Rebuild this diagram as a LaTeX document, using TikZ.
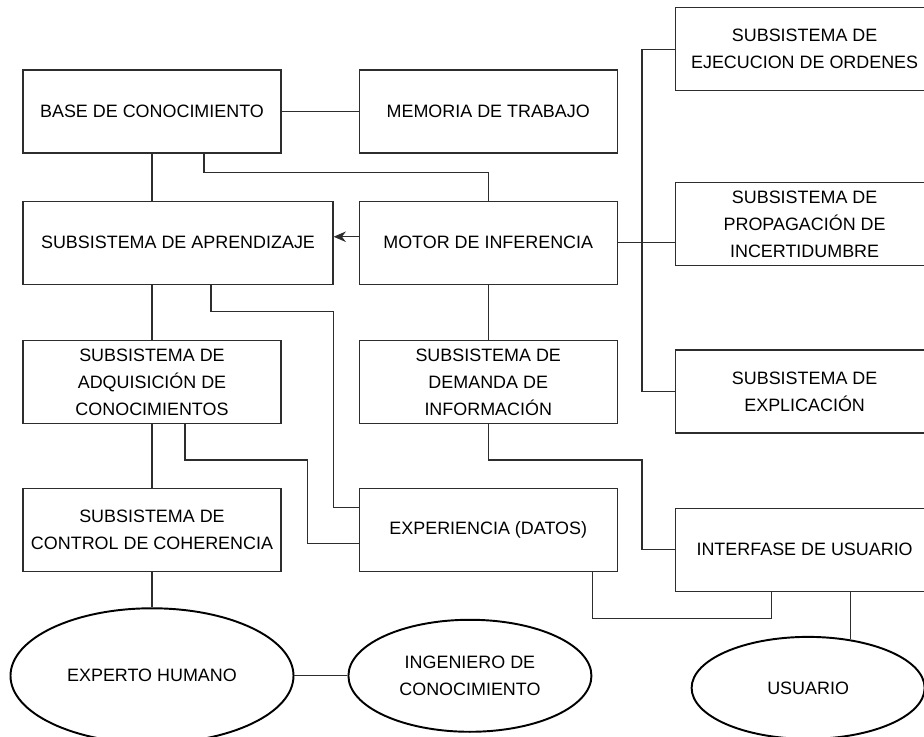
\documentclass[tikz,border=0pt]{standalone}
\usepackage{fontspec}
\setmainfont{Liberation Sans}
\usepackage{tikz}
\usetikzlibrary{shapes,arrows,arrows.meta,positioning}
\definecolor{edgecolor}{RGB}{45,45,45}

\begin{document}
\begin{tikzpicture}[
    node distance=1cm,
    modulo/.style={rectangle, draw=edgecolor, line width=0.7pt, minimum width=5.16cm, minimum height=1.66cm, inner xsep=0pt, inner ysep=2pt, align=center, font=\fontsize{10.2}{15.3}\selectfont},
    actor/.style={ellipse, draw=black, line width=1.1pt, inner sep=0pt, align=center, font=\fontsize{10.2}{15.3}\selectfont},
    link/.style={draw=edgecolor, line width=0.7pt},
    arrow/.style={-{Stealth[length=7pt,width=6pt]}, draw=edgecolor, line width=0.7pt}
]
\useasboundingbox (0,0) rectangle (18.48,-14.72);

% Left and middle columns
\node[modulo] (base) at (3.04,-2.23) {BASE DE CONOCIMIENTO};
\node[modulo, right=1.54cm of base] (memoria) {MEMORIA DE TRABAJO};
\node[modulo, minimum width=6.2cm, below=0.94cm of base.south west, anchor=north west] (aprendizaje) {SUBSISTEMA DE APRENDIZAJE};
\node[modulo, right=0.5cm of aprendizaje] (motor) {MOTOR DE INFERENCIA};
\node[modulo, below=1.1cm of aprendizaje.south west, anchor=north west] (adquisicion) {SUBSISTEMA DE\\ADQUISICIÓN DE\\CONOCIMIENTOS};
\node[modulo, below=1.1cm of motor] (demanda) {SUBSISTEMA DE\\DEMANDA DE\\INFORMACIÓN};
\node[modulo, below=1.28cm of adquisicion] (control) {SUBSISTEMA DE\\CONTROL DE COHERENCIA};
\node[modulo, below=1.28cm of demanda] (experiencia) {EXPERIENCIA (DATOS)};

% Right column
\node[modulo, anchor=north west] (ejecucion) at (13.5,-0.14) {SUBSISTEMA DE\\EJECUCION DE ORDENES};
\node[modulo, below=1.82cm of ejecucion] (propagacion) {SUBSISTEMA DE\\PROPAGACIÓN DE\\INCERTIDUMBRE};
\node[modulo, below=1.66cm of propagacion] (explicacion) {SUBSISTEMA DE\\EXPLICACIÓN};
\node[modulo, below=1.48cm of explicacion] (interfase) {INTERFASE DE USUARIO};

% People
\node[actor, minimum width=5.66cm, minimum height=2.7cm, below=0.7cm of control] (experto) {EXPERTO HUMANO};
\node[actor, minimum width=4.86cm, minimum height=2.24cm, right=1.06cm of experto] (ingeniero) {INGENIERO DE\\CONOCIMIENTO};
\node[actor, minimum width=4.66cm, minimum height=2.04cm, below=0.88cm of interfase, xshift=0.07cm] (usuario) {USUARIO};

% Helper points
\coordinate (expA) at ([yshift=0.45cm]experiencia.west);
\coordinate (expB) at ([yshift=-0.27cm]experiencia.west);
\coordinate (bendB) at ([xshift=0.52cm]adquisicion.east);

% Links
\draw[link] (base) -- (memoria);
\draw[link] (base.south) -- (base.south |- aprendizaje.north);
\draw[link] ([xshift=1.04cm]base.south) -- ++(0,-0.38) -| (motor.north);
\draw[arrow] ([yshift=0.12cm]motor.west) -- ([yshift=0.12cm]aprendizaje.east);
\draw[link] (motor.east) -- (motor.east -| propagacion.west);
\draw[link] (ejecucion.west) -- ++(-0.66,0) |- (explicacion.west);
\draw[link] (aprendizaje.south -| adquisicion.north) -- (adquisicion.north);
\draw[link] ([xshift=0.66cm]aprendizaje.south) -- ++(0,-0.54) -| (expA -| aprendizaje.east) -- (expA);
\draw[link] (adquisicion) -- (control);
\draw[link] ([xshift=0.66cm]adquisicion.south) -- ++(0,-0.72) -| (bendB |- expB) -- (expB);
\draw[link] (motor) -- (demanda);
\draw[link] (demanda.south) -- ++(0,-0.72) -| ([xshift=-0.66cm]interfase.west) -- (interfase.west);
\draw[link] ([xshift=2.08cm]experiencia.south) -- ++(0,-0.92) -| ([xshift=-0.66cm]interfase.south);
\draw[link] (control) -- (experto);
\draw[link] (experto) -- (ingeniero);
\draw[link] (usuario.49 |- interfase.south) -- (usuario.49);

\end{tikzpicture}
\end{document}
